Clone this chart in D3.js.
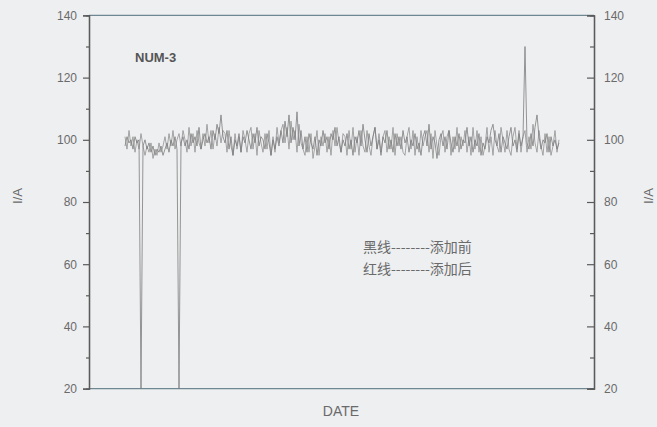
<!DOCTYPE html>
<html><head><meta charset="utf-8">
<script src="https://cdn.jsdelivr.net/npm/d3@7"></script>
<style>
body{margin:0;background:#eeeff1;}
svg{display:block;}
</style></head>
<body>
<svg id="c" width="657" height="427"></svg>
<script>
// ---- data ----
const yTicks = [20, 40, 60, 80, 100, 120, 140];
const yMinorTicks = [30, 50, 70, 90, 110, 130];
const seriesBlack = [
98,101,99,100,97,101,99,100,20,98,
100,97,99,96,98,95,97,96,98,95,
97,99,96,100,98,101,97,20,99,101,
98,100,97,102,99,101,98,104,97,100,
102,99,101,97,103,100,105,102,108,101,
99,103,97,101,95,100,98,102,96,101,
99,103,100,97,102,99,104,98,101,100,
97,102,99,95,100,97,101,98,103,99,
106,101,108,99,104,100,109,98,103,97,
101,96,102,99,97,101,95,100,98,103,
99,101,97,102,100,104,98,101,96,100,
98,102,97,100,95,101,99,103,98,105,
100,96,102,98,101,104,97,100,95,101,
99,103,97,100,96,102,98,101,97,103,
99,101,96,100,98,102,97,99,95,101,
103,98,105,97,101,99,94,100,102,98,
101,97,103,99,96,101,98,102,97,100,
99,104,98,101,96,100,98,102,95,99,
97,101,99,103,105,100,98,102,96,101,
99,97,101,104,98,100,96,102,98,101,
130,99,97,102,98,104,108,101,97,100,
99,102,96,101,98,100,97,99
];
const seriesRed = [
101,97,103,98,101,96,100,97,102,98,
95,98,96,99,94,97,95,99,96,98,
101,97,102,98,103,97,100,102,98,103,
100,96,104,98,102,96,103,99,97,102,
98,105,99,103,97,102,98,104,99,103,
102,96,103,98,95,102,97,101,96,103,
100,96,102,104,97,102,95,103,99,96,
102,97,103,95,101,96,104,99,103,105,
99,104,97,106,100,103,96,105,99,97,
95,101,96,102,94,98,103,95,101,98,
102,96,101,95,103,98,104,99,96,102,
101,95,103,97,104,96,101,95,103,98,
96,103,98,95,101,104,97,102,96,101,
103,96,101,97,104,95,102,98,101,96,
95,101,104,97,103,95,101,96,103,98,
101,103,96,102,94,103,98,95,101,103,
96,101,103,95,101,97,104,96,101,98,
103,96,101,95,104,97,103,96,101,95,
98,104,96,101,95,103,98,96,104,100,
96,103,97,95,101,104,97,103,96,101,
103,96,101,97,105,99,96,103,98,95,
102,96,101,95,98,103,96,100
];
const titleText = "NUM-3";
const legendLines = ["黑线--------添加前", "红线--------添加后"];
const xLabel = "DATE";
const yLabel = "I/A";

// ---- layout ----
const svg = d3.select("#c");
const L = 89, R = 594, T = 15.4, B = 388.6;
const x = d3.scaleLinear().domain([-18, 234.5]).range([L, R]);
const y = d3.scaleLinear().domain([20, 140]).range([B, T]);
const axisCol = "#5a5a5a", textCol = "#6a6a6a";
const font = "'Liberation Sans', Arial, sans-serif";

// frame: top and bottom bluish lines
svg.append("line").attr("x1", L).attr("x2", R).attr("y1", T).attr("y2", T)
  .attr("stroke", "#6f8792").attr("stroke-width", 1.3);
svg.append("line").attr("x1", L).attr("x2", R).attr("y1", B).attr("y2", B)
  .attr("stroke", "#6f8792").attr("stroke-width", 1.3);

// lines
const line = d3.line().x((d, i) => x(i)).y(d => y(d));
svg.append("path").datum(seriesRed).attr("d", line)
  .attr("fill", "none").attr("stroke", "#909090").attr("stroke-width", 0.8);
svg.append("path").datum(seriesBlack).attr("d", line)
  .attr("fill", "none").attr("stroke", "#7c7c7c").attr("stroke-width", 0.8);

// left axis
const gl = svg.append("g").attr("transform", `translate(${L},0)`)
  .call(d3.axisLeft(y).tickValues(yTicks).tickSize(6).tickPadding(6));
gl.append("g").call(d3.axisLeft(y).tickValues(yMinorTicks).tickSize(3).tickFormat(""));
// right axis (ticks pointing inward)
const gr = svg.append("g").attr("transform", `translate(${R},0)`)
  .call(d3.axisLeft(y).tickValues(yTicks).tickSize(7).tickFormat(""));
gr.append("g").call(d3.axisLeft(y).tickValues(yMinorTicks).tickSize(4).tickFormat(""));
svg.append("g").attr("transform", `translate(${R},0)`)
  .call(d3.axisRight(y).tickValues(yTicks).tickSize(0).tickPadding(10))
  .select(".domain").remove();

svg.selectAll(".domain").attr("stroke", axisCol).attr("stroke-width", 1.3);
svg.selectAll(".tick line").attr("stroke", axisCol).attr("stroke-width", 1.2);
svg.selectAll(".tick text").attr("fill", textCol).attr("font-size", 12).attr("font-family", font);

// title
svg.append("text").attr("x", 135).attr("y", 62).text(titleText)
  .attr("font-family", font).attr("font-weight", "bold").attr("font-size", 13).attr("fill", "#555");

// legend
svg.selectAll("text.leg").data(legendLines).enter().append("text").attr("class", "leg")
  .attr("x", 363).attr("y", (d, i) => 252 + i * 22).text(d => d)
  .attr("font-family", "'Noto Sans CJK SC', sans-serif").attr("font-size", 14).attr("fill", textCol);

// axis titles
svg.append("text").attr("x", 341).attr("y", 416).attr("text-anchor", "middle").text(xLabel)
  .attr("font-family", font).attr("font-size", 14).attr("fill", textCol);
svg.append("text").attr("transform", "translate(22,196) rotate(-90)").attr("text-anchor", "middle")
  .text(yLabel).attr("font-family", font).attr("font-size", 13).attr("fill", textCol);
svg.append("text").attr("transform", "translate(653,196) rotate(-90)").attr("text-anchor", "middle")
  .text(yLabel).attr("font-family", font).attr("font-size", 13).attr("fill", textCol);
</script>
</body></html>
